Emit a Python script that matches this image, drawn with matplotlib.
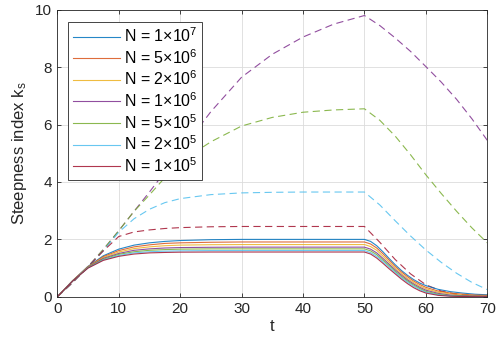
import matplotlib
matplotlib.use("Agg")
import matplotlib.pyplot as plt

plt.rcParams['font.family'] = ['Liberation Sans', 'DejaVu Sans']
plt.rcParams['mathtext.fontset'] = 'custom'
plt.rcParams['mathtext.rm'] = 'Liberation Sans'
plt.rcParams['mathtext.it'] = 'Liberation Sans:italic'
plt.rcParams['mathtext.default'] = 'regular'

t_solid = [0, 2.5, 5, 7.5, 10, 12.5, 15, 17.5, 20, 25, 30, 35, 40, 45, 50,
           51, 52, 53, 54, 55, 56, 57, 58, 59, 60, 62, 64, 66, 68, 70]
t_dash = [0, 2.5, 5, 7.5, 10, 12.5, 15, 17.5, 20, 25, 30, 35, 40, 45, 50,
          52.5, 55, 57.5, 60, 62.5, 65, 67.5, 70]

labels = ['N = 1×10$^{7}$', 'N = 5×10$^{6}$', 'N = 2×10$^{6}$',
          'N = 1×10$^{6}$', 'N = 5×10$^{5}$', 'N = 2×10$^{5}$',
          'N = 1×10$^{5}$']

# solid curves
k_1e7 = [0, .56, 1.06, 1.43, 1.66, 1.80, 1.88, 1.93, 1.96, 1.99, 2.0, 2.0, 2.0, 2.0, 2.0,
         1.93, 1.78, 1.57, 1.34, 1.12, 0.92, 0.75, 0.60, 0.48, 0.39, 0.26, 0.18, 0.13, 0.09, 0.07]
k_5e6 = [0, .56, 1.05, 1.40, 1.61, 1.74, 1.81, 1.86, 1.88, 1.90, 1.91, 1.91, 1.91, 1.91, 1.91,
         1.84, 1.70, 1.50, 1.28, 1.06, 0.87, 0.70, 0.55, 0.43, 0.33, 0.20, 0.13, 0.09, 0.06, 0.05]
k_2e6 = [0, .56, 1.04, 1.37, 1.56, 1.68, 1.74, 1.78, 1.80, 1.815, 1.82, 1.82, 1.82, 1.82, 1.82,
         1.75, 1.62, 1.42, 1.21, 1.00, 0.81, 0.64, 0.50, 0.38, 0.28, 0.16, 0.10, 0.06, 0.04, 0.03]
k_1e6 = [0, .55, 1.03, 1.34, 1.51, 1.62, 1.67, 1.70, 1.715, 1.725, 1.73, 1.73, 1.73, 1.73, 1.73,
         1.66, 1.53, 1.34, 1.14, 0.94, 0.76, 0.59, 0.45, 0.33, 0.23, 0.12, 0.06, 0.04, 0.025, 0.02]
k_5e5 = [0, .55, 1.02, 1.31, 1.48, 1.57, 1.62, 1.645, 1.66, 1.67, 1.67, 1.67, 1.67, 1.67, 1.67,
         1.60, 1.47, 1.28, 1.09, 0.89, 0.71, 0.55, 0.41, 0.29, 0.19, 0.09, 0.04, 0.025, 0.015, 0.01]
k_2e5 = [0, .55, 1.01, 1.29, 1.44, 1.53, 1.57, 1.59, 1.60, 1.61, 1.61, 1.61, 1.61, 1.61, 1.61,
         1.54, 1.41, 1.23, 1.04, 0.85, 0.67, 0.51, 0.37, 0.25, 0.16, 0.07, 0.03, 0.015, 0.01, 0.007]
k_1e5 = [0, .55, 1.00, 1.27, 1.41, 1.49, 1.53, 1.545, 1.555, 1.56, 1.56, 1.56, 1.56, 1.56, 1.56,
         1.49, 1.35, 1.17, 0.98, 0.80, 0.62, 0.46, 0.32, 0.21, 0.13, 0.05, 0.02, 0.01, 0.005, 0.003]

# dashed curves
d_purple = [0, .5, 1.05, 1.65, 2.3, 2.98, 3.65, 4.35, 5.05, 6.45, 7.65, 8.45, 9.05, 9.5, 9.8,
            9.45, 9.02, 8.55, 8.02, 7.48, 6.88, 6.2, 5.45]
d_green = [0, .5, 1.05, 1.65, 2.3, 2.98, 3.55, 4.15, 4.7, 5.4, 5.95, 6.25, 6.43, 6.51, 6.55,
           6.15, 5.6, 4.95, 4.25, 3.6, 2.98, 2.4, 1.88]
d_cyan = [0, .5, 1.05, 1.6, 2.25, 2.72, 3.05, 3.28, 3.42, 3.56, 3.62, 3.64, 3.65, 3.65, 3.65,
          3.2, 2.65, 2.12, 1.63, 1.2, 0.82, 0.5, 0.25]
d_red = [0, .5, 1.05, 1.6, 2.1, 2.26, 2.33, 2.38, 2.41, 2.44, 2.45, 2.45, 2.45, 2.45, 2.45,
         1.9, 1.3, 0.8, 0.42, 0.2, 0.09, 0.04, 0.02]

colors = ['#0072BD', '#D95319', '#EDB120', '#7E2F8E', '#77AC30', '#4DBEEE', '#A2142F']
solid = [k_1e7, k_5e6, k_2e6, k_1e6, k_5e5, k_2e5, k_1e5]
dashed = [(d_purple, colors[3]), (d_green, colors[4]), (d_cyan, colors[5]), (d_red, colors[6])]

fig = plt.figure(figsize=(5.0, 3.45), dpi=100)
ax = fig.add_axes([0.1146, 0.1397, 0.8600, 0.8320])

for (d, c) in dashed:
    ax.plot(t_dash, d, color=c, lw=0.8, dashes=(6.5, 4.0), alpha=0.85)
for y, c, lab in zip(solid, colors, labels):
    ax.plot(t_solid, y, color=c, lw=0.8, label=lab, alpha=0.85)

ax.set_xlim(0, 70)
ax.set_ylim(0, 10)
ax.set_xticks(range(0, 71, 10))
ax.set_yticks(range(0, 11, 2))
ax.grid(True, color='#dcdcdc', lw=0.6)
ax.set_axisbelow(True)
ax.tick_params(direction='in', top=True, right=True, length=3, width=0.6,
               colors='#262626', labelsize=11, pad=4)
for s in ax.spines.values():
    s.set_color('#262626')
    s.set_linewidth(0.6)
ax.set_xlabel('t', fontsize=12, color='#262626', labelpad=2)
ax.set_ylabel('Steepness index k$_s$', fontsize=12, color='#262626', labelpad=4)

leg = ax.legend(loc='upper left', bbox_to_anchor=(0.026, 0.958), borderaxespad=0,
                fontsize=11.5, fancybox=False, framealpha=1, edgecolor='#262626',
                handlelength=2.9, handletextpad=0.25, labelspacing=0.18,
                borderpad=0.3)
leg.get_frame().set_linewidth(0.6)

fig.savefig('out.png', dpi=100)
